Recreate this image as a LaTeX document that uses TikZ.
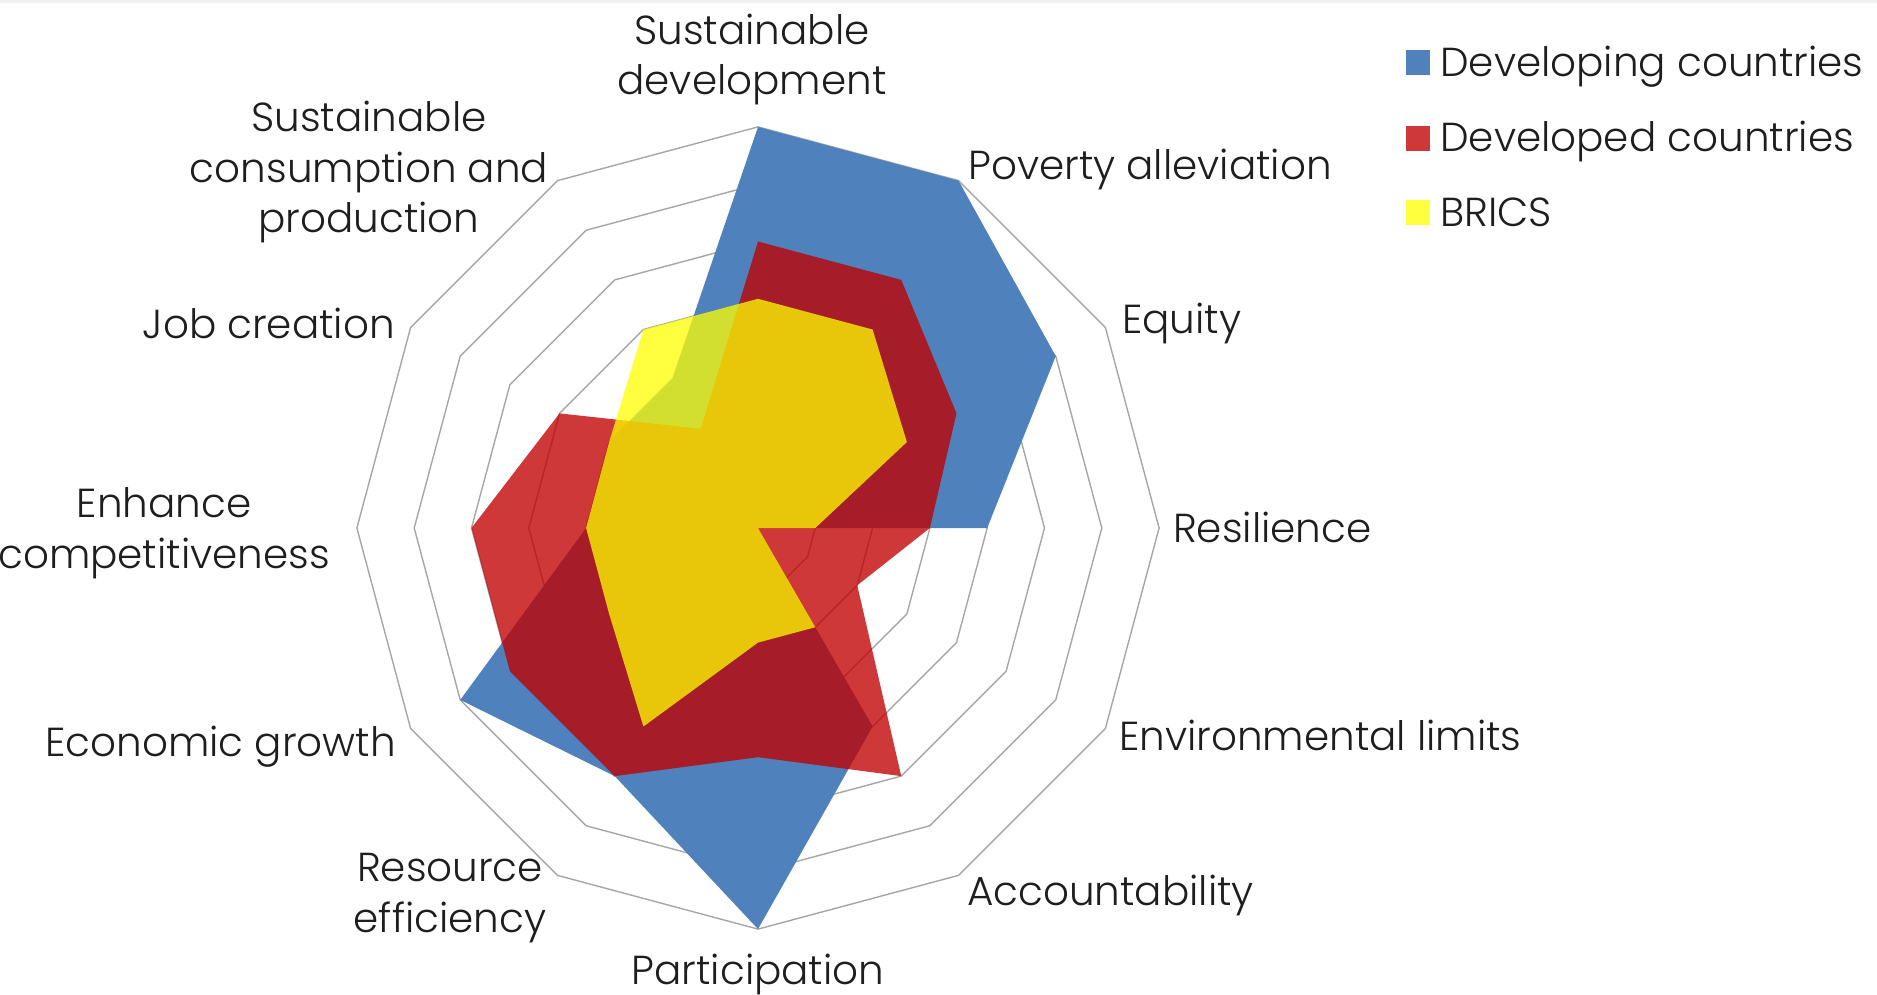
\documentclass[tikz,border=0pt]{standalone}
\usepackage{fontspec}
\setmainfont{Poppins Light}
\definecolor{devblue}{RGB}{79,129,189}
\definecolor{devred}{RGB}{192,0,0}
\definecolor{brics}{RGB}{255,255,0}
\definecolor{gridgray}{RGB}{166,166,166}
\definecolor{labelc}{RGB}{30,30,30}
\begin{document}
\begin{tikzpicture}[x=1pt,y=-1pt,
  gridring/.style={draw=gridgray,line width=1.4pt,line join=miter},
  seriesA/.style={fill=devblue},
  seriesB/.style={fill=devred,fill opacity=0.78},
  seriesC/.style={fill=brics,fill opacity=0.75},
  axislabel/.style={inner sep=0pt,text=labelc,font=\fontsize{40.5}{50.5}\selectfont,align=center},
  legsq/.style={inner sep=0pt,minimum width=24pt,minimum height=25pt},
  ]
\useasboundingbox (0,0) rectangle (1877,995);
\fill[gray!12] (0,0) rectangle (1877,3);
\def\rcx{758}\def\rcy{528}\def\rstep{57.3}
% grid rings
\foreach \k in {1,...,7}
  \draw[gridring] ({\rcx},{\rcy-\rstep*\k})
    \foreach \a in {30,60,...,330}{ -- ({\rcx+\rstep*\k*sin(\a)},{\rcy-\rstep*\k*cos(\a)}) } -- cycle;
% data points
\foreach \v [count=\i from 0] in {7,7,6,4,0,4,7,5,6,3,3,3}
  \coordinate (b\i) at ({\rcx+\rstep*\v*sin(30*\i)},{\rcy-\rstep*\v*cos(30*\i)});
\foreach \v [count=\i from 0] in {5,5,4,3,2,5,4,5,5,5,4,2}
  \coordinate (r\i) at ({\rcx+\rstep*\v*sin(30*\i)},{\rcy-\rstep*\v*cos(30*\i)});
\foreach \v [count=\i from 0] in {4,4,3,1,0,2,2,4,3,3,3,4}
  \coordinate (y\i) at ({\rcx+\rstep*\v*sin(30*\i)},{\rcy-\rstep*\v*cos(30*\i)});
\fill[seriesA] (b0)--(b1)--(b2)--(b3)--(b4)--(b5)--(b6)--(b7)--(b8)--(b9)--(b10)--(b11)--cycle;
\fill[seriesB] (r0)--(r1)--(r2)--(r3)--(r4)--(r5)--(r6)--(r7)--(r8)--(r9)--(r10)--(r11)--cycle;
\fill[seriesC] (y0)--(y1)--(y2)--(y3)--(y4)--(y5)--(y6)--(y7)--(y8)--(y9)--(y10)--(y11)--cycle;
% axis labels (base anchor of multi-line nodes = last line baseline)
\node[axislabel,anchor=base] (lsd) at (752,95) {Sustainable\\development};
\node[axislabel,anchor=base west] (lpa) at (968,180) {Poverty alleviation};
\node[axislabel,anchor=base west] (leq) at (1122,333) {Equity};
\node[axislabel,anchor=base west] (lres) at (1173,542) {Resilience};
\node[axislabel,anchor=base west] (lel) at (1119,750) {Environmental limits};
\node[axislabel,anchor=base west] (lacc) at (967,905) {Accountability};
\node[axislabel,anchor=base] (lpart) at (758,984) {Participation};
\node[axislabel,anchor=base] (lre) at (450,932) {Resource\\efficiency};
\node[axislabel,anchor=base east] (leg) at (396,756) {Economic growth};
\node[axislabel,anchor=base] (lec) at (164,568) {Enhance\\competitiveness};
\node[axislabel,anchor=base east] (ljc) at (395,338) {Job creation};
\node[axislabel,anchor=base] (lscp) at (369,233) {Sustainable\\consumption and\\production};
% legend
\node[legsq,fill=devblue] (k1) at (1418,62.5) {};
\node[legsq,fill=devred,fill opacity=0.78] (k2) at (1418,138.5) {};
\node[legsq,fill=brics,fill opacity=0.75] (k3) at (1418,212.5) {};
\node[axislabel,anchor=base west] (t1) at (1440,77) {Developing countries};
\node[axislabel,anchor=base west] (t2) at (1440,152) {Developed countries};
\node[axislabel,anchor=base west] (t3) at (1440,226) {BRICS};
\end{tikzpicture}
\end{document}
